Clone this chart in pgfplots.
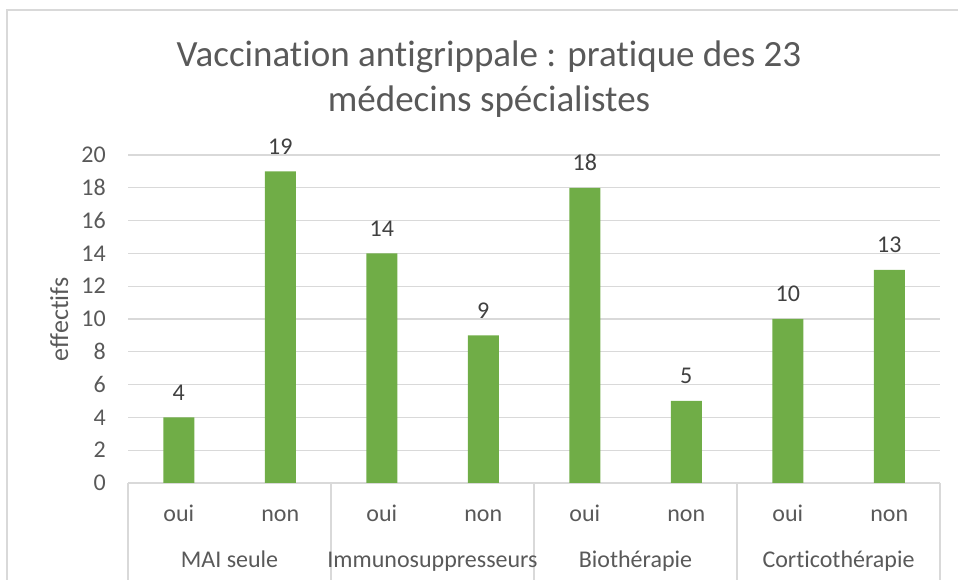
\documentclass[border=0pt]{standalone}
\usepackage{fontspec}
\setmainfont{Carlito}[Ligatures=NoCommon]
\usepackage{pgfplots}
\pgfplotsset{compat=1.18}
\definecolor{bargreen}{HTML}{70AD47}
\definecolor{txtgray}{HTML}{595959}
\definecolor{labgray}{HTML}{404040}
\definecolor{gridgray}{HTML}{D9D9D9}
\begin{document}
\begin{tikzpicture}[x=1bp,y=1bp]
\useasboundingbox (0,0) rectangle (958,580);
\draw[gridgray, line width=1.5bp] (7,0) -- (7,570) -- (958,570);
\node[txtgray, font=\fontsize{37bp}{45bp}\selectfont, anchor=base] at (489,513) {Vaccination antigrippale : pratique des 23};
\node[txtgray, font=\fontsize{37bp}{45bp}\selectfont, anchor=base] at (489,468) {médecins spécialistes};
\node[txtgray, font=\fontsize{26bp}{30bp}\selectfont, rotate=90, anchor=base, inner sep=0pt] at (68,260.5) {effectifs};
\begin{axis}[
  at={(128bp,97bp)}, anchor=south west,
  scale only axis, width=812bp, height=328bp,
  xmin=-0.5, xmax=7.5, ymin=0, ymax=20,
  ytick={0,2,...,20},
  xtick={0,...,7},
  xticklabels={oui,non,oui,non,oui,non,oui,non},
  axis x line=bottom, axis y line=left,
  y axis line style={draw=none},
  x axis line style={gridgray, line width=1.5bp, -},
  major tick length=0pt,
  ymajorgrids,
  grid style={gridgray, line width=1.2bp},
  /pgf/number format/assume math mode=true,
  tick label style={font=\fontsize{24bp}{28bp}\selectfont, text=txtgray},
  xticklabel style={anchor=base, yshift=-39bp, inner sep=0pt},
  yticklabel style={anchor=east, xshift=-22bp, inner sep=0pt},
  clip=false,
]
\addplot[ybar, bar width=31bp, fill=bargreen, draw=none,
  nodes near coords,
  nodes near coords style={font=\fontsize{24bp}{28bp}\selectfont, text=labgray, anchor=base, yshift=17bp, inner sep=0pt}]
  coordinates {(0,4) (1,19) (2,14) (3,9) (4,18) (5,5) (6,10) (7,13)};
\pgfplotsinvokeforeach{-0.5,1.5,3.5,5.5,7.5}{
  \draw[gridgray, line width=1.5bp] (axis cs:#1,0) -- ++(0bp,-97bp);
}
\node[txtgray, font=\fontsize{24bp}{28bp}\selectfont, anchor=base, yshift=-85bp, inner sep=0pt] at (axis cs:0.5,0) {MAI seule};
\node[txtgray, font=\fontsize{24bp}{28bp}\selectfont, anchor=base, yshift=-85bp, inner sep=0pt] at (axis cs:2.5,0) {Immunosuppresseurs};
\node[txtgray, font=\fontsize{24bp}{28bp}\selectfont, anchor=base, yshift=-85bp, inner sep=0pt] at (axis cs:4.5,0) {Biothérapie};
\node[txtgray, font=\fontsize{24bp}{28bp}\selectfont, anchor=base, yshift=-85bp, inner sep=0pt] at (axis cs:6.5,0) {Corticothérapie};
\end{axis}
\end{tikzpicture}
\end{document}
